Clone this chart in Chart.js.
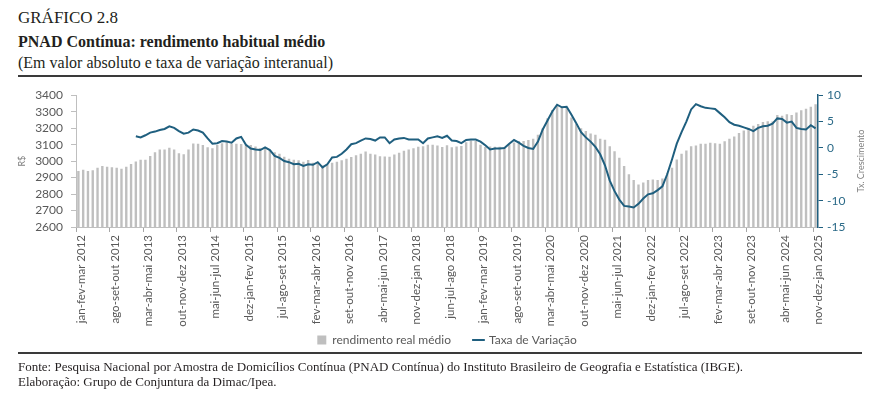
<!DOCTYPE html>
<html lang="pt-BR">
<head>
<meta charset="utf-8">
<title>Gráfico 2.8 - PNAD Contínua</title>
<script src="https://cdn.jsdelivr.net/npm/chart.js@4.4.1/dist/chart.umd.min.js"></script>
<style>
  body { margin: 0; width: 877px; height: 395px; background: #fff; position: relative; overflow: hidden;
         font-family: "Liberation Serif", "Times New Roman", serif; color: #231f20; }
  .txt { position: absolute; left: 18px; white-space: nowrap; line-height: 20px; }
  #numero { top: 8px; font-size: 17px; }
  #titulo { top: 32px; font-size: 16px; font-weight: bold; }
  #subtitulo { top: 53px; font-size: 16px; }
  .regua { position: absolute; left: 18px; width: 844px; height: 2px; background: #3a3a3a; }
  #grafico { position: absolute; left: 0; top: 80px; width: 877px; height: 276px; }
  .fonte { font-size: 13px; line-height: 15px; }
</style>
</head>
<body>
<div class="txt" id="numero">GRÁFICO 2.8</div>
<div class="txt" id="titulo">PNAD Contínua: rendimento habitual médio</div>
<div class="txt" id="subtitulo">(Em valor absoluto e taxa de variação interanual)</div>
<div class="regua" style="top:75px"></div>

<div id="grafico"><canvas id="myChart"></canvas></div>

<div class="regua" style="top:352px"></div>
<div class="txt fonte" style="top:359px">Fonte: Pesquisa Nacional por Amostra de Domicílios Contínua (PNAD Contínua) do Instituto Brasileiro de Geografia e Estatística (IBGE).</div>
<div class="txt fonte" style="top:374px">Elaboração: Grupo de Conjuntura da Dimac/Ipea.</div>

<script>
// trimestres moveis: jan-fev-mar 2012 ate nov-dez-jan 2025 (155 periodos)
const meses = ['jan', 'fev', 'mar', 'abr', 'mai', 'jun', 'jul', 'ago', 'set', 'out', 'nov', 'dez'];
const anoInicial = 2012;
const totalPeriodos = 155;
const passoRotulo = 7; // um rotulo a cada 7 trimestres moveis

// rendimento real medio (R$)
const rendimento = [
  2940, 2948, 2940, 2945, 2960, 2970, 2965, 2962, 2960, 2953,
  2965, 2982, 2998, 3008, 3008, 3031, 3054, 3071, 3071, 3081,
  3070, 3047, 3042, 3071, 3107, 3106, 3098, 3084, 3078, 3098,
  3109, 3116, 3105, 3105, 3104, 3099, 3097, 3089, 3080, 3080,
  3066, 3054, 3045, 3026, 3014, 3008, 3005, 2996, 3007, 2990,
  2988, 2973, 2978, 2990, 2996, 3005, 3015, 3025, 3035, 3045,
  3059, 3045, 3040, 3030, 3028, 3026, 3040, 3050, 3063, 3070,
  3078, 3087, 3090, 3099, 3100, 3094, 3086, 3096, 3084, 3088,
  3092, 3115, 3125, 3122, 3100, 3085, 3088, 3087, 3087, 3086,
  3102, 3113, 3122, 3122, 3128, 3135, 3160, 3200, 3260, 3310,
  3340, 3330, 3325, 3265, 3225, 3200, 3182, 3168, 3160, 3135,
  3130, 3090, 3060, 3020, 2970, 2920, 2885, 2858, 2870, 2885,
  2888, 2885, 2895, 2925, 2960, 3010, 3045, 3065, 3090, 3095,
  3105, 3106, 3112, 3108, 3105, 3120, 3135, 3150, 3170, 3185,
  3200, 3215, 3225, 3238, 3242, 3240, 3280, 3275, 3285, 3280,
  3295, 3308, 3318, 3330, 3345
];

// taxa de variacao interanual (%) - comeca em mar-abr-mai 2013
const taxaVariacao = [
  null, null, null, null, null, null, null, null, null, null, null, null,
  2.2, 2.0, 2.4, 2.9, 3.1, 3.4, 3.6, 4.1, 3.8, 3.2,
  2.7, 2.9, 3.5, 3.3, 2.9, 1.8, 0.8, 0.9, 1.3, 1.2,
  1.0, 1.8, 2.1, 0.6, -0.1, -0.3, -0.4, 0.1, -0.4, -1.5,
  -1.9, -2.5, -2.7, -3.1, -3.0, -3.4, -3.1, -3.2, -2.7, -3.7,
  -3.1, -1.8, -1.7, -1.1, -0.3, 0.7, 0.9, 1.4, 1.8, 1.7,
  1.4, 2.0, 2.0, 0.9, 1.6, 1.8, 1.9, 1.6, 1.6, 1.6,
  0.9, 1.8, 2.0, 2.2, 1.9, 2.3, 1.4, 1.3, 0.9, 1.5,
  1.6, 1.6, 1.2, 0.5, -0.3, -0.1, -0.1, 0.0, 0.8, 1.5,
  1.0, 0.4, 0.0, -0.2, 1.2, 3.5, 5.2, 6.9, 8.2, 7.7,
  7.8, 6.3, 4.7, 3.0, 2.0, 1.2, 0.2, -1.2, -3.3, -6.2,
  -8.2, -9.8, -11.0, -11.1, -11.3, -10.6, -9.6, -8.8, -8.6, -8.0,
  -7.3, -5.0, -2.2, 0.8, 3.0, 5.0, 7.3, 8.3, 7.9, 7.6,
  7.5, 7.4, 6.6, 5.8, 4.9, 4.4, 4.2, 3.9, 3.6, 3.2,
  3.8, 4.1, 4.2, 4.6, 5.6, 5.5, 4.8, 5.0, 3.8, 3.6,
  3.5, 4.3, 3.7
];

// rotulos dos trimestres (ano = ano do ultimo mes)
const periodos = [];
for (let i = 0; i < totalPeriodos; i++) {
  const nomes = [meses[i % 12], meses[(i + 1) % 12], meses[(i + 2) % 12]].join('-');
  const ano = anoInicial + Math.floor((i + 2) / 12);
  periodos.push(`${nomes} ${ano}`);
}

const corLinha = '#1f5f7f';
const corBarra = '#bfbfbf';
const corTexto = '#595959';

Chart.defaults.font.family = 'Lato';
Chart.defaults.color = corTexto;

// titulo do eixo direito (lido de baixo para cima, como no original)
const tituloDireito = {
  id: 'tituloDireito',
  afterDraw(chart) {
    const { ctx, chartArea } = chart;
    ctx.save();
    ctx.translate(861, (chartArea.top + chartArea.bottom) / 2);
    ctx.rotate(-Math.PI / 2);
    ctx.font = '9px Lato';
    ctx.fillStyle = '#7f7f7f';
    ctx.textAlign = 'center';
    ctx.textBaseline = 'middle';
    ctx.fillText('Tx. Crescimento', 0, 0);
    ctx.restore();
  }
};

const config = {
  type: 'bar',
  data: {
    labels: periodos,
    datasets: [
      {
        label: 'rendimento real médio',
        data: rendimento,
        backgroundColor: corBarra,
        barPercentage: 0.5,
        categoryPercentage: 1,
        yAxisID: 'y',
        pointStyle: 'rect',
        order: 2
      },
      {
        type: 'line',
        label: 'Taxa de Variação',
        data: taxaVariacao,
        borderColor: corLinha,
        backgroundColor: corLinha,
        borderWidth: 2,
        pointRadius: 0,
        tension: 0,
        yAxisID: 'y1',
        pointStyle: 'line',
        order: 1
      }
    ]
  },
  options: {
    responsive: true,
    maintainAspectRatio: false,
    animation: false,
    layout: { padding: { top: 12, left: 17, right: 0, bottom: 0 } },
    plugins: {
      tooltip: { enabled: false },
      legend: {
        position: 'bottom',
        labels: {
          usePointStyle: true,
          boxWidth: 9,
          boxHeight: 9,
          padding: 5,
          color: corTexto,
          font: { size: 12 },
          sort: (a, b) => a.datasetIndex - b.datasetIndex,
          // espaco extra entre os dois itens da legenda
          generateLabels: (chart) => {
            const itens = Chart.defaults.plugins.legend.labels.generateLabels(chart);
            itens.forEach((item) => {
              if (item.datasetIndex === 0) item.text = item.text + '\u2003\u2003';
            });
            return itens;
          }
        }
      }
    },
    scales: {
      x: {
        offset: true,
        grid: {
          offset: true,
          drawOnChartArea: false,
          tickLength: 5,
          color: (c) => (c.index % passoRotulo === 0 ? '#a6a6a6' : 'rgba(0,0,0,0)')
        },
        border: { display: true, color: '#bfbfbf' },
        ticks: {
          autoSkip: false,
          minRotation: 90,
          maxRotation: 90,
          padding: 3,
          labelOffset: 3,
          color: corTexto,
          font: { size: 11.5 },
          callback: (valor, i) => (i % passoRotulo === 0 ? periodos[i] : '')
        },
        afterFit: (s) => { s.height = 102; }
      },
      y: {
        position: 'left',
        min: 2600,
        max: 3400,
        ticks: {
          stepSize: 100,
          autoSkip: false,
          padding: 8,
          color: corTexto,
          font: { size: 12 },
          callback: (v) => String(v)
        },
        grid: { drawOnChartArea: false, tickLength: 5, color: '#bfbfbf' },
        border: { color: '#bfbfbf' },
        title: { display: true, text: 'R$', color: '#7f7f7f', font: { size: 9 }, padding: 0 },
        afterFit: (s) => { s.width = 59; }
      },
      y1: {
        position: 'right',
        min: -15,
        max: 10,
        ticks: { stepSize: 5, autoSkip: false, padding: 4, color: '#2b6a88', font: { size: 12 } },
        grid: { drawOnChartArea: false, tickLength: 5, color: corLinha },
        border: { color: corLinha, width: 1.5 },
        afterFit: (s) => { s.width = 59; }
      }
    }
  },
  plugins: [tituloDireito]
};

const chart = new Chart(document.getElementById('myChart'), config);
</script>
</body>
</html>
